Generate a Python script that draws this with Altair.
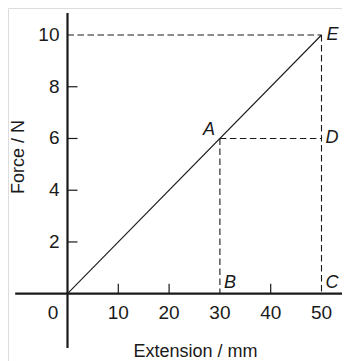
import altair as alt
import pandas as pd

# ---- data ----
x_tick_values = [10, 20, 30, 40, 50]
x_tick_marks = [10, 20, 40]
y_tick_values = [2, 4, 6, 8, 10]
y_tick_marks = [2, 4, 6, 8]
line_ext = [0, 50]
line_force = [0, 10]
point_names = ["A", "B", "C", "D", "E"]
point_ext = [30, 30, 50, 50, 50]
point_force = [6, 0, 0, 6, 10]
guide_x1 = [0, 50, 30, 30]
guide_y1 = [10, 10, 6, 6]
guide_x2 = [50, 50, 50, 30]
guide_y2 = [10, 0, 6, 0]
x_axis_extent = [-10.3, 56]
y_axis_extent = [-2.1, 10.85]

W, H = 334, 353
XDOM = [-11.713, 54.035]
YDOM = [-2.6015, 11.044]
FONT = "Liberation Sans"

xs = alt.Scale(domain=XDOM, nice=False, zero=False)
ys = alt.Scale(domain=YDOM, nice=False, zero=False)

def X(f):
    return alt.X(f, type="quantitative", scale=xs, axis=None)

def Y(f):
    return alt.Y(f, type="quantitative", scale=ys, axis=None)

# tick length: 10px converted to data units
tick_y_len = 10 / (H / (YDOM[1] - YDOM[0]))
tick_x_len = 10 / (W / (XDOM[1] - XDOM[0]))

xaxis_df = pd.DataFrame({"x": [x_axis_extent[0]], "x2": [x_axis_extent[1]], "y": [0]})
yaxis_df = pd.DataFrame({"y": [y_axis_extent[0]], "y2": [y_axis_extent[1]], "x": [0]})

xaxis = alt.Chart(xaxis_df).mark_rule(color="#1a1a1a", strokeWidth=2.2).encode(
    x=X("x"), x2="x2", y=Y("y"))
yaxis = alt.Chart(yaxis_df).mark_rule(color="#1a1a1a", strokeWidth=2.2).encode(
    y=Y("y"), y2="y2", x=X("x"))

xt_df = pd.DataFrame({"x": x_tick_marks, "y": [0] * len(x_tick_marks),
                      "y2": [tick_y_len] * len(x_tick_marks)})
yt_df = pd.DataFrame({"y": y_tick_marks, "x": [0] * len(y_tick_marks),
                      "x2": [tick_x_len] * len(y_tick_marks)})
xticks = alt.Chart(xt_df).mark_rule(color="#1a1a1a", strokeWidth=1.2).encode(
    x=X("x"), y=Y("y"), y2="y2")
yticks = alt.Chart(yt_df).mark_rule(color="#1a1a1a", strokeWidth=1.2).encode(
    y=Y("y"), x=X("x"), x2="x2")

guides_df = pd.DataFrame({"x": guide_x1, "y": guide_y1, "x2": guide_x2, "y2": guide_y2})
guides = alt.Chart(guides_df).mark_rule(color="#1a1a1a", strokeWidth=1.1,
                                         strokeDash=[6.5, 3.5]).encode(
    x=X("x"), y=Y("y"), x2="x2", y2="y2")

line_df = pd.DataFrame({"x": line_ext, "y": line_force})
line = alt.Chart(line_df).mark_line(color="#1a1a1a", strokeWidth=1.1).encode(
    x=X("x"), y=Y("y"))

TICK_FS = 19
xl_df = pd.DataFrame({"x": x_tick_values, "y": [0] * len(x_tick_values),
                      "t": [str(v) for v in x_tick_values]})
xlabels = alt.Chart(xl_df).mark_text(font=FONT, fontSize=TICK_FS, color="#1a1a1a",
                                     align="center", baseline="middle", dy=19).encode(
    x=X("x"), y=Y("y"), text="t:N")
yl_df = pd.DataFrame({"y": y_tick_values, "x": [0] * len(y_tick_values),
                      "t": [str(v) for v in y_tick_values]})
ylabels = alt.Chart(yl_df).mark_text(font=FONT, fontSize=TICK_FS, color="#1a1a1a",
                                     align="right", baseline="middle", dx=-8).encode(
    x=X("x"), y=Y("y"), text="t:N")
zero_df = pd.DataFrame({"x": [0], "y": [0], "t": ["0"]})
zlabel = alt.Chart(zero_df).mark_text(font=FONT, fontSize=TICK_FS, color="#1a1a1a",
                                      align="center", baseline="middle",
                                      dx=-14.5, dy=19).encode(
    x=X("x"), y=Y("y"), text="t:N")

pts = pd.DataFrame({"x": point_ext, "y": point_force, "t": point_names})

def plabel(name, **kw):
    return alt.Chart(pts[pts.t == name]).mark_text(
        font=FONT, fontSize=18, fontStyle="italic", color="#1a1a1a", **kw).encode(
        x=X("x"), y=Y("y"), text="t:N")

lA = plabel("A", align="right", baseline="alphabetic", dx=-5, dy=-3)
lB = plabel("B", align="left", baseline="alphabetic", dx=4, dy=-6)
lC = plabel("C", align="left", baseline="alphabetic", dx=4, dy=-6)
lD = plabel("D", align="left", baseline="middle", dx=4, dy=0)
lE = plabel("E", align="left", baseline="middle", dx=5, dy=0)

title_df = pd.DataFrame({"t": ["Extension / mm"]})
xtitle = alt.Chart(title_df).mark_text(font=FONT, fontSize=18, color="#1a1a1a",
                                       align="center", baseline="alphabetic").encode(
    x=alt.value(187.5), y=alt.value(349), text="t:N")
ytitle_df = pd.DataFrame({"t": ["Force / N"]})
ytitle = alt.Chart(ytitle_df).mark_text(font=FONT, fontSize=18, color="#1a1a1a",
                                        align="center", baseline="middle", angle=270).encode(
    x=alt.value(11), y=alt.value(149), text="t:N")

chart = alt.layer(
    guides, line, xaxis, yaxis, xticks, yticks, xlabels, ylabels, zlabel,
    lA, lB, lC, lD, lE, xtitle, ytitle
).properties(
    width=W, height=H, padding=0, autosize=alt.AutoSizeParams(type="none")
).configure_view(stroke=None).configure(background="white")

chart.save("out.html", embed_options={"renderer": "svg", "actions": False})
